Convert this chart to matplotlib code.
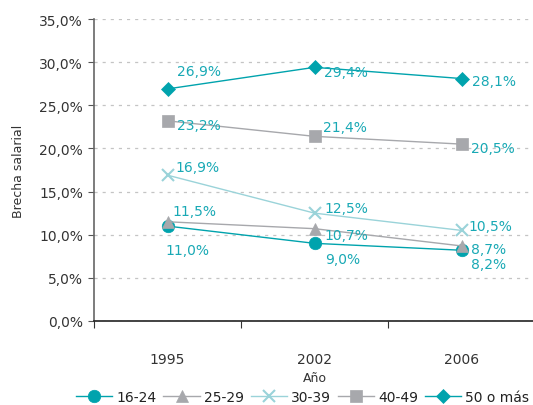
import matplotlib
matplotlib.use("Agg")
import matplotlib.pyplot as plt
from matplotlib.ticker import FixedLocator, FuncFormatter

years = ["1995", "2002", "2006"]
series_names = ["16-24", "25-29", "30-39", "40-49", "50 o más"]
v_16_24 = [11.0, 9.0, 8.2]
v_25_29 = [11.5, 10.7, 8.7]
v_30_39 = [16.9, 12.5, 10.5]
v_40_49 = [23.2, 21.4, 20.5]
v_50_mas = [26.9, 29.4, 28.1]
yticks = [0, 5, 10, 15, 20, 25, 30, 35]

teal = "#00A3AD"
gray = "#A7A8AC"
light = "#9AD3D9"
label_color = "#19A9B5"

styles = [
    (v_16_24, teal, "o", 9, 1.0),
    (v_25_29, gray, "^", 9, 1.0),
    (v_30_39, light, "x", 9, 1.0),
    (v_40_49, gray, "s", 8, 1.0),
    (v_50_mas, teal, "D", 7, 1.0),
]

# label offsets in pixels (dx, dy) per series / point
offsets = {
    0: [(-2, -24), (11, -16), (9, -14)],
    1: [(5, 11), (10, -6), (9, -3)],
    2: [(8, 8), (10, 5), (7, 4)],
    3: [(9, -4), (8, 9), (9, -4)],
    4: [(9, 18), (9, -5), (10, -2)],
}

fig = plt.figure(figsize=(5.33, 4.06), dpi=100)
ax = fig.add_axes([0.1764, 0.2069, 0.8274, 0.7438])

x = list(range(len(years)))
handles = []
for i, (vals, col, mk, ms, lw) in enumerate(styles):
    mew = 1.5 if mk == "x" else 0.5
    h, = ax.plot(x, vals, color=col, marker=mk, markersize=ms, linewidth=lw,
                 markeredgewidth=mew, markeredgecolor=col, markerfacecolor=col,
                 label=series_names[i], zorder=3)
    handles.append(h)
    for j, v in enumerate(vals):
        dx, dy = offsets[i][j]
        ax.annotate(f"{v:.1f}%".replace(".", ","), (j, v), xytext=(dx, dy),
                    textcoords="offset pixels", ha="left", va="center",
                    fontsize=10, color=label_color, zorder=4)

ax.set_xlim(-0.5, 2.5)
ax.set_ylim(0, 35)
ax.set_yticks(yticks)
ax.yaxis.set_major_formatter(FuncFormatter(lambda v, p: f"{v:.1f}%".replace(".", ",")))
ax.grid(axis="y", color="#C4C4C4", linestyle=(0, (2.5, 4)), linewidth=0.9)
ax.set_axisbelow(True)

ax.xaxis.set_major_locator(FixedLocator([-0.5, 0.5, 1.5, 2.5]))
ax.xaxis.set_minor_locator(FixedLocator(x))
ax.set_xticklabels([], minor=False)
ax.set_xticklabels(years, minor=True)
ax.tick_params(axis="x", which="major", length=5, direction="out", color="#333333")
ax.tick_params(axis="x", which="minor", length=0, pad=22, labelsize=10, labelcolor="#333333")
ax.tick_params(axis="y", length=4, color="#555555", labelsize=10, labelcolor="#333333", pad=4)

for s in ["top", "right"]:
    ax.spines[s].set_visible(False)
ax.spines["left"].set_color("#666666")
ax.spines["left"].set_linewidth(1.2)
ax.spines["bottom"].set_color("#222222")
ax.spines["bottom"].set_linewidth(1.2)

ax.set_ylabel("Brecha salarial", fontsize=9, color="#333333", labelpad=10)
ax.set_xlabel("Año", fontsize=9, color="#333333", labelpad=4)

fig.legend(handles=handles, loc="center", bbox_to_anchor=(0.568, 0.02), ncol=5,
           frameon=False, fontsize=10, handlelength=2.6, handletextpad=0.3,
           columnspacing=0.5, borderaxespad=0, labelcolor="#222222")

fig.savefig("out.png", dpi=100)
